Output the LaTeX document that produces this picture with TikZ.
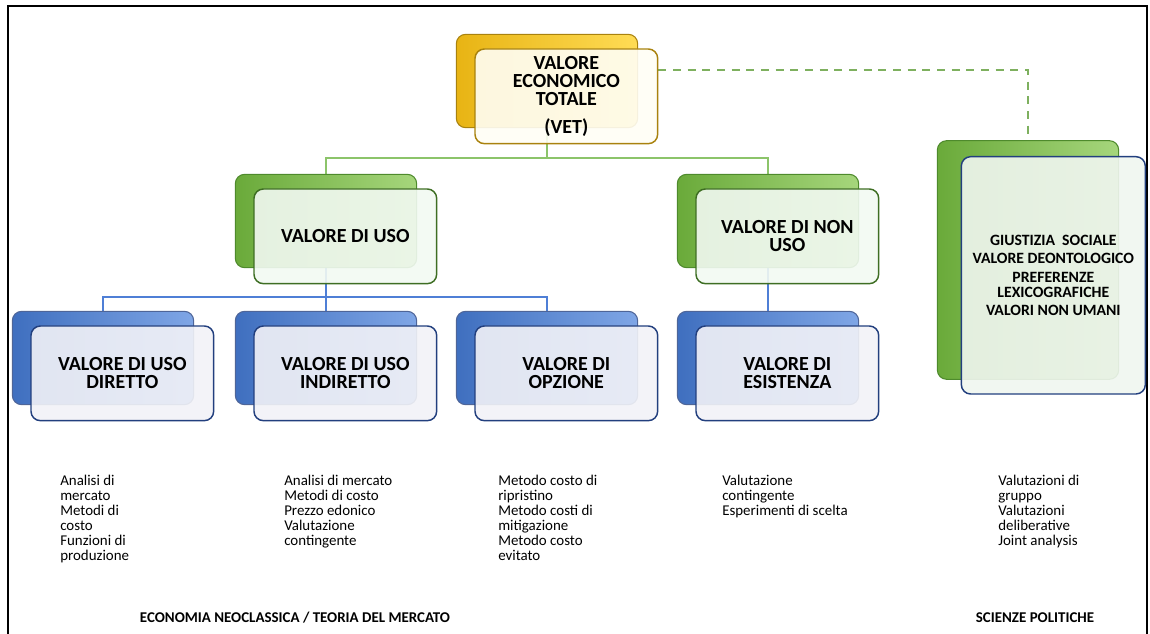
\documentclass[tikz,border=0pt]{standalone}
\usepackage{fontspec}
\setmainfont{Carlito}
\usetikzlibrary{backgrounds}
\definecolor{oroScuro}{HTML}{E8B414}
\definecolor{oroChiaro}{HTML}{FFDC55}
\definecolor{oroBordo}{HTML}{A9820E}
\definecolor{verdeScuro}{HTML}{6AAA3A}
\definecolor{verdeChiaro}{HTML}{A6D67C}
\definecolor{verdeBordo}{HTML}{4E8A2C}
\definecolor{bluScuro}{HTML}{3F6FBF}
\definecolor{bluChiaro}{HTML}{7FA6E6}
\definecolor{bluBordo}{HTML}{223F7E}
\definecolor{lineaV}{HTML}{8CC46A}
\definecolor{lineaB}{HTML}{4F7FD6}
\tikzstyle{dietro} = [rectangle, rounded corners=7pt, minimum width=136pt,
    minimum height=70pt, line width=0.8pt]
\tikzstyle{davanti} = [rectangle, rounded corners=7pt, minimum width=137pt,
    minimum height=71pt, line width=1.1pt, align=center, fill opacity=0.9,
    text opacity=1, font=\fontsize{15}{13.5}\selectfont\bfseries,
    xshift=14.5pt, yshift=-11.5pt]
\tikzstyle{giallo} = [draw=oroBordo, left color=oroScuro, right color=oroChiaro]
\tikzstyle{verde} = [draw=verdeBordo, left color=verdeScuro, right color=verdeChiaro]
\tikzstyle{blu} = [draw=bluBordo!80, left color=bluScuro, right color=bluChiaro]
\tikzstyle{vetfronte} = [draw=oroBordo, fill=yellow!4]
\tikzstyle{verdefronte} = [draw=verdeBordo!80!black, fill=green!50!black!5]
\tikzstyle{blufronte} = [draw=bluBordo, fill=blue!40!black!5]
\tikzstyle{eticofronte} = [draw=bluBordo, fill=green!40!black!6]
\tikzstyle{nota} = [anchor=north west, align=left, inner sep=0pt,
    font=\fontsize{11.2}{11.25}\selectfont]
\tikzstyle{etichetta} = [inner sep=0pt, font=\fontsize{11.2}{12}\selectfont\bfseries]
\tikzstyle{lineaverde} = [draw=lineaV, line width=1.5pt]
\tikzstyle{lineablu} = [draw=lineaB, line width=1.5pt]
\tikzstyle{tratteggio} = [draw=lineaV!90!black, line width=1.3pt, dash pattern=on 6pt off 5pt]
\begin{document}
\begin{tikzpicture}[x=0.75pt,y=-0.75pt]
  \useasboundingbox (0,0) rectangle (1150,634);
  \draw[line width=1.6pt] (8,634) -- (8,6) -- (1147,6) -- (1147,634);

  % valore economico totale
  \node[dietro,giallo]    (vetB) at (547,81) {};
  \node[davanti,vetfronte] (vet) at (vetB) {VALORE\\ECONOMICO\\TOTALE\\[7pt](VET)};

  % uso / non uso
  \node[dietro,verde]        (usoB) at (326,221) {};
  \node[davanti,verdefronte] (uso) at (usoB) {VALORE DI USO};
  \node[dietro,verde]        (nonusoB) at (768,221) {};
  \node[davanti,verdefronte] (nonuso) at (nonusoB) {VALORE DI NON\\USO};

  % componenti
  \node[dietro,blu]        (direttoB) at (103,358) {};
  \node[davanti,blufronte] (diretto) at (direttoB) {VALORE DI USO\\DIRETTO};
  \node[dietro,blu]        (indirettoB) at (326,358) {};
  \node[davanti,blufronte] (indiretto) at (indirettoB) {VALORE DI USO\\INDIRETTO};
  \node[dietro,blu]        (opzioneB) at (547,358) {};
  \node[davanti,blufronte] (opzione) at (opzioneB) {VALORE DI\\OPZIONE};
  \node[dietro,blu]        (esistenzaB) at (768,358) {};
  \node[davanti,blufronte] (esistenza) at (esistenzaB) {VALORE DI\\ESISTENZA};

  % scienze politiche
  \node[dietro,verde,minimum height=179pt] (eticoB) at (1028,260) {};
  \node[davanti,eticofronte,minimum width=138pt,minimum height=178pt,xshift=4.5pt,
        font=\fontsize{11.8}{11}\selectfont\bfseries] (etico) at (eticoB)
        {GIUSTIZIA\ \ SOCIALE\\[3pt]VALORE DEONTOLOGICO\\[3pt]PREFERENZE\\
         LEXICOGRAFICHE\\[3pt]VALORI NON UMANI};

  \begin{scope}[on background layer]
    \coordinate (ramoV) at (547,158);
    \draw[lineaverde] (vetB) -- (ramoV) -| (usoB.north);
    \draw[lineaverde] (ramoV) -| (nonusoB.north);
    \coordinate (ramoB) at (326,297);
    \draw[lineablu] (usoB) -- (ramoB) -| (direttoB.north);
    \draw[lineablu] (ramoB) -| (opzioneB.north);
    \draw[lineablu] (ramoB) -- (indirettoB.north);
    \draw[lineablu] (nonusoB) -- (esistenzaB.north);
    \coordinate (angolo) at (1028,70);
    \draw[tratteggio] (vet.east |- angolo) -- (angolo) -- (eticoB.north);
  \end{scope}

  % metodi
  \node[nota] (nota1) at (60,475) {Analisi di\\mercato\\Metodi di\\costo\\Funzioni di\\produzione};
  \node[nota] (nota2) at (284,475) {Analisi di mercato\\Metodi di costo\\Prezzo edonico\\Valutazione\\contingente};
  \node[nota] (nota3) at (498,475) {Metodo costo di\\ripristino\\Metodo costi di\\mitigazione\\Metodo costo\\evitato};
  \node[nota] (nota4) at (722,475) {Valutazione\\contingente\\Esperimenti di scelta};
  \node[nota] (nota5) at (998,475) {Valutazioni di\\gruppo\\Valutazioni\\deliberative\\Joint analysis};

  \node[etichetta] (scuolaA) at (295,618) {ECONOMIA NEOCLASSICA / TEORIA DEL MERCATO};
  \node[etichetta] (scuolaB) at (1035,618) {SCIENZE POLITICHE};
\end{tikzpicture}
\end{document}
